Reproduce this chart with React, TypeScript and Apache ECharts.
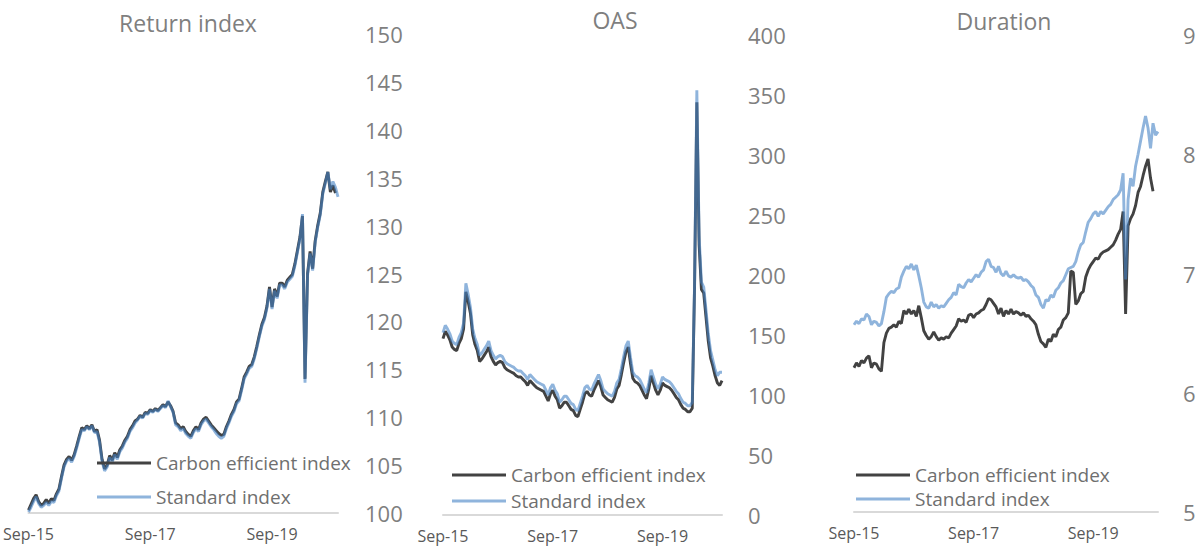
import React, { useEffect, useRef } from "react";
import * as echarts from "echarts";

// Semi-monthly dates, Sep 2015 .. Oct 2020
const categories: string[] = [];
for (let m = 0; m <= 61; m++) {
  const y = 2015 + Math.floor((8 + m) / 12);
  const mo = ((8 + m) % 12) + 1;
  const mm = mo < 10 ? "0" + mo : "" + mo;
  categories.push(`${y}-${mm}-01`);
  if (m < 61) categories.push(`${y}-${mm}-15`);
}

const tickDates = ["2015-09-01", "2017-09-01", "2019-09-01"];
const tickLabels = ["Sep-15", "Sep-17", "Sep-19"];

const panelTitles = ["Return index", "OAS", "Duration"];
const seriesNames = ["Carbon efficient index", "Standard index"];

const returnCarbon = [
  100.3, 100.9, 101.5, 101.9, 101.2, 100.8, 101.0, 101.4, 101.0, 101.5,
  101.3, 102.0, 102.5, 103.8, 105.0, 105.6, 105.9, 105.5, 106.1, 107.0,
  108.0, 108.9, 108.7, 109.1, 108.8, 109.2, 108.5, 108.7, 107.6, 105.6,
  104.6, 105.0, 106.0, 105.5, 106.3, 105.8, 106.6, 107.0, 107.6, 108.0,
  108.7, 109.1, 109.6, 109.8, 110.2, 110.0, 110.5, 110.4, 110.8, 110.6,
  110.9, 110.7, 111.0, 111.3, 111.1, 111.6, 111.2, 110.6, 109.4, 109.2,
  108.8, 109.0, 108.5, 108.2, 108.0, 108.6, 109.0, 108.7, 109.4, 109.8,
  110.0, 109.6, 109.2, 108.9, 108.6, 108.3, 108.1, 108.2, 109.0, 109.6,
  110.3, 110.8, 111.6, 111.9, 113.0, 114.2, 114.7, 115.3, 115.5, 116.3,
  117.4, 118.6, 119.7, 120.4, 121.6, 123.6, 121.5, 123.4, 122.6, 124.0,
  124.0, 123.6, 124.3, 124.6, 124.9, 126.0, 127.4, 128.8, 131.0, 114.0,
  125.0, 127.3, 125.5, 128.4, 130.0, 131.3, 133.5, 134.6, 135.6, 133.5,
  134.2, 133.4, null,
];
const returnStandard = [
  100.1, 100.6, 101.2, 101.7, 101.0, 100.6, 100.8, 101.1, 100.8, 101.2,
  101.1, 101.8, 102.3, 103.6, 104.8, 105.4, 105.7, 105.3, 105.9, 106.8,
  107.8, 108.7, 108.6, 109.0, 108.7, 109.1, 108.4, 108.5, 107.4, 105.4,
  104.4, 104.8, 105.8, 105.3, 106.1, 105.6, 106.4, 106.8, 107.4, 107.8,
  108.5, 108.9, 109.4, 109.7, 110.1, 109.9, 110.4, 110.3, 110.7, 110.5,
  110.8, 110.6, 110.9, 111.2, 111.0, 111.7, 111.1, 110.5, 109.2, 109.0,
  108.6, 108.8, 108.3, 108.0, 107.8, 108.4, 108.8, 108.5, 109.2, 109.6,
  109.8, 109.4, 109.0, 108.7, 108.3, 108.0, 107.8, 108.0, 108.8, 109.4,
  110.1, 110.6, 111.4, 111.7, 112.8, 114.0, 114.5, 115.1, 115.3, 116.1,
  117.2, 118.4, 119.5, 120.2, 121.4, 123.4, 121.3, 123.2, 122.4, 123.8,
  123.8, 123.4, 124.1, 124.4, 124.7, 125.8, 127.2, 128.6, 131.2, 113.6,
  124.8, 127.1, 125.3, 128.2, 129.8, 131.1, 133.3, 134.4, 135.6, 133.8,
  134.6, 134.0, 133.0,
];

const oasCarbon = [
  147, 153, 150, 146, 140, 138, 137, 143, 147, 155,
  186, 178, 168, 150, 142, 137, 128, 130, 133, 136,
  140, 132, 128, 125, 127, 128, 127, 123, 121, 120,
  119, 118, 116, 115, 115, 113, 111, 108, 112, 110,
  108, 106, 105, 104, 103, 99, 95, 101, 104, 99,
  96, 89, 91, 94, 94, 91, 88, 87, 83, 82,
  88, 94, 101, 103, 100, 99, 104, 108, 112, 107,
  100, 98, 96, 95, 94, 98, 105, 108, 117, 127,
  136, 140, 126, 114, 111, 110, 108, 104, 100, 97,
  105, 116, 110, 104, 100, 104, 110, 108, 107, 106,
  104, 101, 98, 96, 92, 89, 88, 86, 86, 89,
  190, 344, 225, 188, 185, 165, 145, 131, 124, 116,
  110, 108, 112,
];
const oasStandard = [
  152, 158, 155, 151, 145, 143, 142, 148, 152, 160,
  193, 184, 173, 155, 147, 142, 133, 135, 138, 141,
  145, 137, 133, 130, 132, 133, 132, 128, 126, 125,
  124, 123, 121, 120, 120, 118, 116, 113, 117, 115,
  113, 111, 110, 109, 108, 104, 100, 106, 109, 104,
  101, 94, 96, 99, 99, 96, 93, 92, 88, 87,
  93, 99, 106, 108, 105, 104, 109, 113, 117, 112,
  105, 103, 101, 100, 99, 103, 110, 113, 122, 132,
  141, 145, 131, 119, 116, 115, 113, 109, 105, 102,
  110, 121, 115, 109, 105, 109, 115, 113, 112, 111,
  109, 106, 103, 101, 97, 94, 93, 91, 91, 94,
  192, 354, 232, 194, 190, 171, 151, 137, 129, 121,
  116, 119, 119,
];

const durCarbon = [
  6.21, 6.25, 6.22, 6.27, 6.25, 6.29, 6.31, 6.21, 6.25, 6.24,
  6.20, 6.18, 6.42, 6.50, 6.54, 6.55, 6.57, 6.55, 6.60, 6.58,
  6.69, 6.66, 6.70, 6.66, 6.69, 6.64, 6.73, 6.63, 6.52, 6.48,
  6.45, 6.47, 6.51, 6.47, 6.44, 6.46, 6.45, 6.47, 6.46, 6.50,
  6.53, 6.56, 6.62, 6.60, 6.61, 6.59, 6.65, 6.66, 6.63, 6.66,
  6.67, 6.69, 6.70, 6.74, 6.79, 6.78, 6.75, 6.72, 6.66, 6.71,
  6.64, 6.69, 6.66, 6.70, 6.66, 6.68, 6.67, 6.65, 6.67, 6.64,
  6.65, 6.62, 6.60, 6.57, 6.49, 6.43, 6.41, 6.38, 6.45, 6.43,
  6.49, 6.47, 6.53, 6.55, 6.61, 6.63, 6.67, 7.02, 7.01, 6.74,
  6.77, 6.83, 6.85, 6.97, 7.03, 7.07, 7.10, 7.13, 7.12, 7.16,
  7.18, 7.19, 7.20, 7.22, 7.24, 7.28, 7.33, 7.37, 7.52, 6.66,
  7.40, 7.46, 7.50, 7.57, 7.68, 7.73, 7.82, 7.90, 7.96, 7.80,
  7.69, null, null,
];
const durStandard = [
  6.57, 6.60, 6.58, 6.62, 6.61, 6.66, 6.64, 6.57, 6.60, 6.59,
  6.56, 6.58, 6.68, 6.80, 6.83, 6.85, 6.84, 6.87, 6.88, 6.97,
  7.02, 7.06, 7.04, 7.08, 7.03, 7.07, 6.98, 6.88, 6.76, 6.72,
  6.71, 6.76, 6.72, 6.74, 6.71, 6.73, 6.72, 6.75, 6.78, 6.80,
  6.84, 6.82, 6.91, 6.89, 6.88, 6.92, 6.95, 6.93, 6.96, 6.99,
  6.97, 7.01, 7.03, 7.10, 7.12, 7.06, 7.05, 7.01, 7.06, 7.00,
  6.98, 7.02, 6.98, 6.97, 6.99, 6.97, 6.96, 6.97, 6.94, 6.95,
  6.93, 6.90, 6.88, 6.82, 6.80, 6.74, 6.71, 6.78, 6.77, 6.82,
  6.80, 6.86, 6.88, 6.92, 6.94, 6.99, 7.04, 7.05, 7.06, 7.10,
  7.18, 7.24, 7.26, 7.35, 7.43, 7.46, 7.50, 7.52, 7.48, 7.52,
  7.50, 7.53, 7.56, 7.58, 7.62, 7.64, 7.66, 7.70, 7.84, 6.95,
  7.62, 7.80, 7.73, 7.90, 8.00, 8.11, 8.22, 8.32, 8.22, 8.05,
  8.26, 8.16, 8.19,
];

const yMins = [100, 0, 5];
const yMaxs = [150, 400, 9];
const yIntervals = [5, 50, 1];

const FONT = "'Open Sans', sans-serif";
const CARBON_COLOR = "#424242";
const STANDARD_COLOR = "rgba(68,130,197,0.6)";

export default function App() {
  const ref = useRef<HTMLDivElement>(null);

  useEffect(() => {
    if (!ref.current) return;
    const chart = echarts.init(ref.current, undefined, { renderer: "svg" });

    const grids = [
      { left: 22, top: 34, width: 316, height: 479 },
      { left: 443, top: 35, width: 279, height: 480 },
      { left: 854, top: 35, width: 304, height: 477 },
    ];
    const titlePos = [
      [188, 23],
      [615, 20],
      [1004, 21],
    ];
    const legendPos = [
      { left: 97, top: 453, itemGap: 14 },
      { left: 452, top: 465, itemGap: 6 },
      { left: 856, top: 465, itemGap: 4 },
    ];
    const yLabelMargin = [27, 26, 25];
    const dataSets = [
      [returnCarbon, returnStandard],
      [oasCarbon, oasStandard],
      [durCarbon, durStandard],
    ];

    const series: any[] = [];
    dataSets.forEach((pair, k) => {
      series.push({
        name: seriesNames[0],
        type: "line",
        xAxisIndex: k,
        yAxisIndex: k,
        data: pair[0],
        symbol: "none",
        showSymbol: false,
        color: CARBON_COLOR,
        lineStyle: { color: CARBON_COLOR, width: 2.9 },
      });
      series.push({
        name: seriesNames[1],
        type: "line",
        xAxisIndex: k,
        yAxisIndex: k,
        data: pair[1],
        symbol: "none",
        showSymbol: false,
        color: STANDARD_COLOR,
        lineStyle: { color: STANDARD_COLOR, width: 2.9 },
      });
    });

    chart.setOption({
      animation: false,
      backgroundColor: "#ffffff",
      textStyle: { fontFamily: FONT },
      grid: grids,
      xAxis: grids.map((_, k) => ({
        type: "category",
        gridIndex: k,
        data: categories,
        boundaryGap: false,
        axisLine: { show: true, lineStyle: { color: "#d9d9d9", width: 2 } },
        axisTick: { show: false },
        splitLine: { show: false },
        axisLabel: {
          interval: (_i: number, v: string) => tickDates.indexOf(v) >= 0,
          formatter: (v: string) => {
            const idx = tickDates.indexOf(v);
            return idx >= 0 ? tickLabels[idx] : "";
          },
          color: "#595959",
          fontSize: 16,
          fontFamily: FONT,
          margin: 13,
          showMinLabel: true,
        },
      })),
      yAxis: grids.map((_, k) => ({
        type: "value",
        gridIndex: k,
        position: "right",
        min: yMins[k],
        max: yMaxs[k],
        interval: yIntervals[k],
        axisLine: { show: false },
        axisTick: { show: false },
        splitLine: { show: false },
        axisLabel: {
          color: "#7f7f7f",
          fontSize: 22,
          fontFamily: FONT,
          margin: yLabelMargin[k],
          align: "left",
        },
      })),
      legend: legendPos.map((p) => ({
        data: seriesNames,
        orient: "vertical",
        left: p.left,
        top: p.top,
        itemGap: p.itemGap,
        padding: 0,
        icon: "rect",
        itemWidth: 54,
        itemHeight: 3,
        selectedMode: false,
        textStyle: {
          color: "#6f6f6f",
          fontSize: 19,
          fontFamily: FONT,
          lineHeight: 20,
          padding: [0, 0, 0, 0],
        },
      })),
      graphic: panelTitles.map((t, k) => ({
        type: "text",
        x: titlePos[k][0],
        y: titlePos[k][1],
        style: {
          text: t,
          fill: "#7f7f7f",
          font: `23px ${FONT}`,
          textAlign: "center",
          textVerticalAlign: "middle",
        },
      })),
      series,
    });

    return () => chart.dispose();
  }, []);

  return (
    <div
      ref={ref}
      style={{ position: "fixed", left: 0, top: 0, width: 1203, height: 551 }}
    />
  );
}
